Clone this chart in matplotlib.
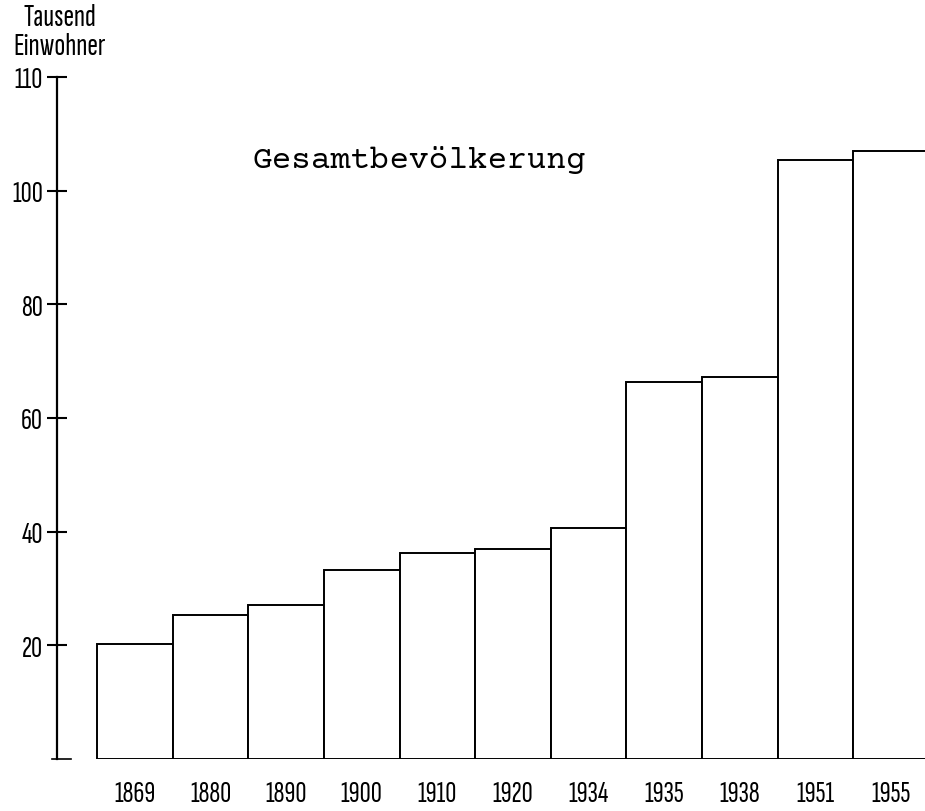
import matplotlib
matplotlib.use("Agg")
import matplotlib.pyplot as plt

# Data
years = ["1869", "1880", "1890", "1900", "1910", "1920", "1934", "1935", "1938", "1951", "1955"]
population = [20.3, 25.3, 27.1, 33.2, 36.3, 36.9, 40.6, 66.3, 67.3, 105.4, 106.9]
ytick_values = [20, 40, 60, 80, 100, 120]
ytick_labels = ["20", "40", "60", "80", "100", "110"]

narrow = ["Sofia Sans Extra Condensed", "Fira Sans Extra Condensed", "DejaVu Sans"]
typewriter = ["Courier Prime", "Cutive Mono", "Liberation Mono", "DejaVu Sans Mono"]

fig = plt.figure(figsize=(9.25, 8.12), dpi=100)
ax = fig.add_axes([57 / 925, 52 / 812, 1.0 - 57 / 925 + 0.004, 682 / 812])

x = list(range(len(years)))
ax.bar(x, population, width=1.0, color="white", edgecolor="black", linewidth=1.4, zorder=2)

ax.set_xlim(-0.5 - 40 / 75.27, 10.5)
ax.set_ylim(0, 120)

for s in ["top", "right", "bottom"]:
    ax.spines[s].set_visible(False)
ax.spines["left"].set_linewidth(1.6)

ax.set_yticks(ytick_values)
ax.set_yticklabels(ytick_labels, family=narrow, fontsize=22)
ax.tick_params(axis="y", direction="inout", length=14, width=1.5, pad=3)

ax.set_xticks(x)
ax.set_xticklabels(years, family=narrow, fontsize=22)
ax.tick_params(axis="x", length=0, pad=15)

# small baseline stub at the axis
ax.axhline(0, xmin=-0.006, xmax=0.016, color="black", linewidth=1.2, clip_on=False)

fig.text(419 / 925, 1 - 168 / 812, "Gesamtbevölkerung", family=typewriter,
         fontsize=23.5, ha="center", va="baseline")

fig.text(60 / 925, 1 - 4 / 812, "Tausend\nEinwohner", family=narrow, fontsize=23,
         fontweight="semibold", ha="center", va="top", multialignment="center", linespacing=1.05)

fig.savefig("out.png", dpi=100, facecolor="white")
